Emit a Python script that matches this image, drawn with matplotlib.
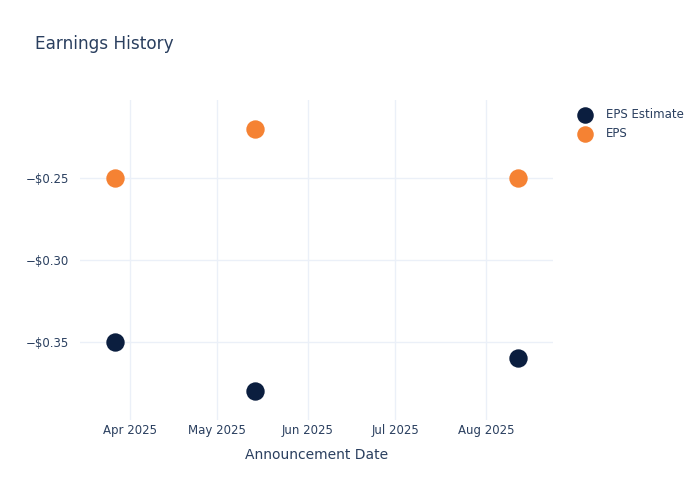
import pandas as pd
import numpy as np
import matplotlib.pyplot as plt
import matplotlib.dates as mdates
from matplotlib.ticker import FuncFormatter

# data
dates = pd.to_datetime(["2025-03-27", "2025-05-14", "2025-08-12"])
eps_estimate = [-0.35, -0.38, -0.36]
eps_actual = [-0.25, -0.22, -0.25]

navy = "#0b1e3f"
orange = "#f58233"
text_col = "#2a3f5f"
grid_col = "#ebf0f8"

fig = plt.figure(figsize=(7, 5), dpi=100)
ax = fig.add_axes([80/700, 80/500, 473/700, 320/500])

ax.scatter(dates, eps_estimate, s=175, color=navy, label="EPS Estimate", zorder=3, linewidths=0)
ax.scatter(dates, eps_actual, s=175, color=orange, label="EPS", zorder=3, linewidths=0)

ax.set_xlim(pd.Timestamp("2025-03-14 22:00"), pd.Timestamp("2025-08-24"))
ax.set_ylim(-0.3976, -0.2024)

ax.xaxis.set_major_locator(mdates.MonthLocator(bymonth=[4, 5, 6, 7, 8]))
ax.xaxis.set_major_formatter(mdates.DateFormatter("%b %Y"))
ax.set_yticks([-0.35, -0.30, -0.25])
ax.yaxis.set_major_formatter(FuncFormatter(lambda v, p: ("\u2212" if v < 0 else "") + f"${abs(v):.2f}"))

for s in ax.spines.values():
    s.set_visible(False)
ax.grid(True, color=grid_col, linewidth=1)
ax.set_axisbelow(True)
ax.tick_params(length=0, labelsize=8.5, colors=text_col, pad=8)
ax.tick_params(axis="x", pad=3)

ax.set_xlabel("Announcement Date", fontsize=10, color=text_col, labelpad=8)
fig.text(35/700, 1 - 44/500, "Earnings History", fontsize=12.2, color=text_col, va="center")

leg = ax.legend(loc="upper left", bbox_to_anchor=(1.027, 1.0), frameon=False, fontsize=8.5,
                handletextpad=0.75, labelspacing=0.55, markerscale=0.9, borderaxespad=0.25)
for t in leg.get_texts():
    t.set_color(text_col)

fig.savefig("out.png", dpi=100)
